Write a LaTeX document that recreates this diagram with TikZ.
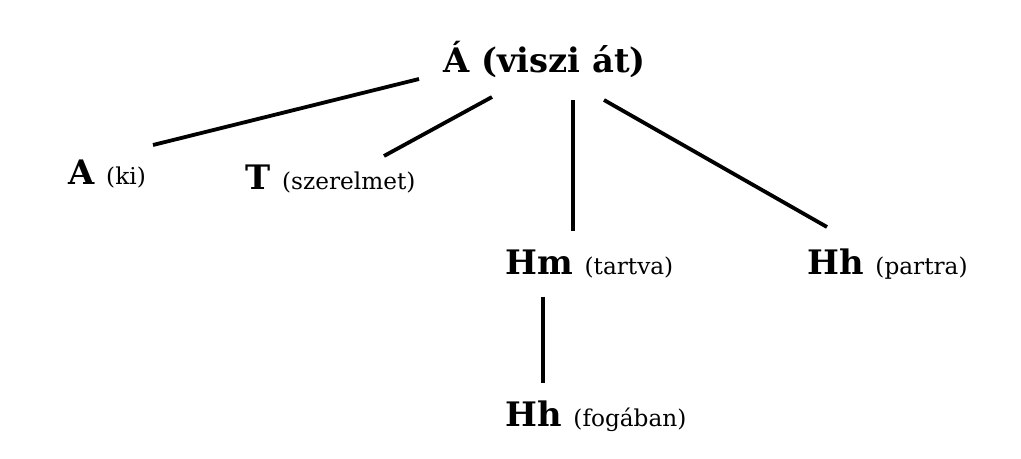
\documentclass[tikz,border=0pt]{standalone}
\usepackage{fontspec}
\setmainfont{DejaVu Serif}
\newcommand{\kis}[1]{{\fontsize{16.5}{20}\selectfont\mdseries #1}}

\begin{document}
\begin{tikzpicture}[x=0.025cm, y=-0.025cm,
	tag/.style={inner sep=0pt, anchor=base west, font=\fontsize{24}{29}\selectfont\bfseries},
	branch/.style={line width=2.7pt}]
	\useasboundingbox (0,0) rectangle (1021,459);

	\node [tag] (root)    at (443,73)  {Á (viszi át)};
	\node [tag] (ki)      at (68,185)  {A \kis{(ki)}};
	\node [tag] (szer)    at (245,190) {T \kis{(szerelmet)}};
	\node [tag] (tartva)  at (505,275) {Hm \kis{(tartva)}};
	\node [tag] (partra)  at (807,275) {Hh \kis{(partra)}};
	\node [tag] (fogaban) at (505,426) {Hh \kis{(fogában)}};

	\path[branch] ([shift={(-24,6)}]root.base west) edge ([shift={(85,-40)}]ki.base west);
	\path[branch] ([shift={(49,24)}]root.base west) edge ([shift={(139,-34)}]szer.base west);
	\path[branch] ([shift={(130,27)}]root.base west) edge ([shift={(68,-44)}]tartva.base west);
	\path[branch] ([shift={(161,27)}]root.base west) edge ([shift={(20,-48)}]partra.base west);
	\path[branch] ([shift={(38,22)}]tartva.base west) edge ([shift={(38,-43)}]fogaban.base west);
\end{tikzpicture}
\end{document}
